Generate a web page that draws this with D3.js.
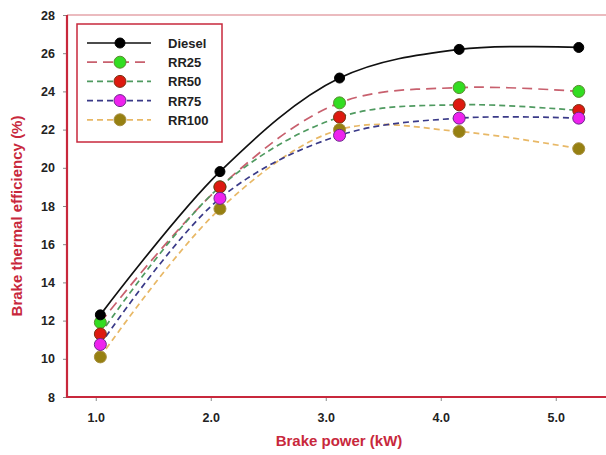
<!DOCTYPE html>
<html>
<head>
<meta charset="utf-8">
<script src="https://cdn.jsdelivr.net/npm/d3@7"></script>
<style>
  body { margin: 0; background: #fff; }
  svg { display: block; font-family: Arial, "Liberation Sans", sans-serif; }
</style>
</head>
<body>
<svg id="chart" width="606" height="455"></svg>
<script>
// data
const power = [1.04, 2.08, 3.12, 4.16, 5.2];
const diesel = [12.3, 19.8, 24.7, 26.2, 26.3];
const rr25 = [11.9, 19.0, 23.4, 24.2, 24.0];
const rr50 = [11.3, 19.0, 22.65, 23.3, 23.0];
const rr75 = [10.75, 18.4, 21.7, 22.6, 22.6];
const rr100 = [10.1, 17.85, 22.0, 21.9, 21.0];
const xTicks = [1, 2, 3, 4, 5];
const yTicks = [8, 10, 12, 14, 16, 18, 20, 22, 24, 26, 28];

const series = [
  { name: "Diesel", values: diesel, line: "#111", dash: null, fill: "#000", stroke: "#000", r: 5, z: 4 },
  { name: "RR25", values: rr25, line: "#c8606e", dash: "10,6", fill: "#33dd22", stroke: "#5a8a30", r: 6, z: 0 },
  { name: "RR50", values: rr50, line: "#4f9a60", dash: "6,4", fill: "#dd1a10", stroke: "#7a3010", r: 6, z: 1 },
  { name: "RR75", values: rr75, line: "#3a3a88", dash: "6,4", fill: "#ee22ee", stroke: "#6a2a8a", r: 6, z: 3 },
  { name: "RR100", values: rr100, line: "#e8b866", dash: "6,4", fill: "#968012", stroke: "#a89040", r: 6, z: 2 },
];

const svg = d3.select("#chart");
const mLeft = 67, mTop = 15, mBottom = 397;
const red = "#c8283c";

const x = d3.scaleLinear().domain([0.75, 5.5]).range([mLeft, mLeft + 4.75 * 115]);
const y = d3.scaleLinear().domain([8, 28]).range([mBottom, mTop]);

// top border
svg.append("line")
  .attr("x1", mLeft).attr("x2", 606).attr("y1", mTop).attr("y2", mTop)
  .attr("stroke", "#d87880").attr("stroke-width", 1.2);

// axes
const yAxis = svg.append("g")
  .attr("transform", `translate(${mLeft},0)`)
  .call(d3.axisLeft(y).tickValues(yTicks).tickSize(4).tickPadding(8).tickFormat(d3.format("d")));
const xAxis = svg.append("g")
  .attr("transform", `translate(0,${mBottom})`)
  .call(d3.axisBottom(x).tickValues(xTicks).tickSize(4).tickPadding(12).tickFormat(d3.format(".1f")));

[xAxis, yAxis].forEach(a => {
  a.select(".domain").remove();
  a.selectAll(".tick line").attr("stroke", "#888").attr("stroke-width", 1);
  a.selectAll(".tick text").attr("fill", "#222").attr("font-size", 12.5).attr("font-weight", "bold");
});

svg.append("line")
  .attr("x1", mLeft).attr("x2", mLeft).attr("y1", mTop).attr("y2", mBottom + 1)
  .attr("stroke", red).attr("stroke-width", 2.2);
svg.append("line")
  .attr("x1", mLeft - 1).attr("x2", 606).attr("y1", mBottom).attr("y2", mBottom)
  .attr("stroke", red).attr("stroke-width", 2.2);

// axis titles
svg.append("text")
  .attr("x", 339).attr("y", 446)
  .attr("text-anchor", "middle")
  .attr("fill", red).attr("font-size", 15).attr("font-weight", "bold")
  .text("Brake power (kW)");
svg.append("text")
  .attr("transform", `translate(22,${(mTop + mBottom) / 2 + 10}) rotate(-90)`)
  .attr("text-anchor", "middle")
  .attr("fill", red).attr("font-size", 15).attr("font-weight", "bold")
  .text("Brake thermal efficiency (%)");

// curves
const line = d3.line()
  .x((d, i) => x(power[i]))
  .y(d => y(d))
  .curve(d3.curveCatmullRom.alpha(0.5));

const drawOrder = series.slice().sort((a, b) => a.z - b.z);

drawOrder.forEach(s => {
  svg.append("path")
    .datum(s.values)
    .attr("d", line)
    .attr("fill", "none")
    .attr("stroke", s.line)
    .attr("stroke-width", 1.7)
    .attr("stroke-dasharray", s.dash);
});

drawOrder.forEach(s => {
  svg.append("g").selectAll("circle")
    .data(s.values)
    .join("circle")
    .attr("cx", (d, i) => x(power[i]))
    .attr("cy", d => y(d))
    .attr("r", s.r)
    .attr("fill", s.fill)
    .attr("stroke", s.stroke)
    .attr("stroke-width", 1);
});

// legend
const lg = svg.append("g").attr("transform", "translate(77,24)");
lg.append("rect")
  .attr("width", 145).attr("height", 118)
  .attr("fill", "#fff").attr("stroke", red).attr("stroke-width", 1.5);

series.forEach((s, i) => {
  const row = lg.append("g").attr("transform", `translate(0,${19 + i * 19.2})`);
  row.append("line")
    .attr("x1", 10).attr("x2", 74).attr("y1", 0).attr("y2", 0)
    .attr("stroke", s.line).attr("stroke-width", 1.7)
    .attr("stroke-dasharray", s.dash);
  row.append("circle")
    .attr("cx", 43).attr("cy", 0).attr("r", s.r)
    .attr("fill", s.fill).attr("stroke", s.stroke).attr("stroke-width", 1);
  row.append("text")
    .attr("x", 91).attr("y", 5)
    .attr("font-size", 13).attr("font-weight", "bold").attr("fill", "#222")
    .text(s.name);
});
</script>
</body>
</html>
